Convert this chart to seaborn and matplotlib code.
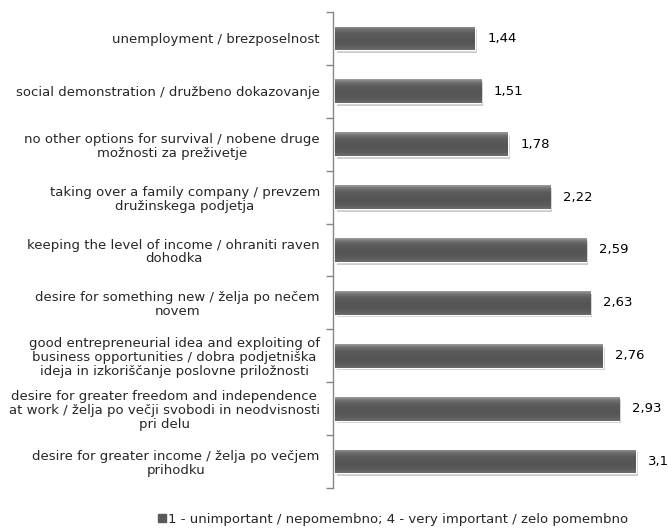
import numpy as np
import pandas as pd
import matplotlib
matplotlib.use("Agg")
import matplotlib.pyplot as plt
import seaborn as sns
from matplotlib.patches import Patch

categories = [
    "unemployment / brezposelnost",
    "social demonstration / družbeno dokazovanje",
    "no other options for survival / nobene druge\nmožnosti za preživetje",
    "taking over a family company / prevzem\ndružinskega podjetja",
    "keeping the level of income / ohraniti raven\ndohodka",
    "desire for something new / želja po nečem\nnovem",
    "good entrepreneurial idea and exploiting of\nbusiness opportunities / dobra podjetniška\nideja in izkoriščanje poslovne priložnosti",
    "desire for greater freedom and independence\nat work / želja po večji svobodi in neodvisnosti\npri delu",
    "desire for greater income / želja po večjem\nprihodku",
]
values = [1.44, 1.51, 1.78, 2.22, 2.59, 2.63, 2.76, 2.93, 3.1]
value_labels = ["1,44", "1,51", "1,78", "2,22", "2,59", "2,63", "2,76", "2,93", "3,1"]
legend_label = "1 - unimportant / nepomembno; 4 - very important / zelo pomembno"

df = pd.DataFrame({"category": categories, "value": values})

sns.set_style("white")
plt.rcParams["font.family"] = ["DejaVu Sans"]
FS = 9.5

W, H = 668, 532
fig = plt.figure(figsize=(W / 100, H / 100), dpi=100)
ax = fig.add_axes([333 / W, (H - 488) / H, (W - 333) / W, 476 / H])

sns.barplot(data=df, y="category", x="value", color="#595959", width=0.45,
            orient="h", ax=ax, saturation=1)

XMAX = (W - 335) / 97.0
ax.set_xlim(-2 / 97.0, XMAX)
ax.set_ylim(len(categories) - 0.5, -0.5)

# gradient shading for bars
grad = np.array([0.0, 0.12, 0.3, 0.6, 0.85, 1.0])
cols = np.array([[0.62, 0.62, 0.62], [0.45, 0.45, 0.45], [0.36, 0.36, 0.36],
                 [0.33, 0.33, 0.33], [0.36, 0.36, 0.36], [0.42, 0.42, 0.42]])
yy = np.linspace(0, 1, 64)
img = np.stack([np.interp(yy, grad, cols[:, k]) for k in range(3)], axis=-1)[:, None, :]
for p in list(ax.patches):
    x0, y0 = p.get_x(), p.get_y()
    w, h = p.get_width(), p.get_height()
    ax.add_patch(plt.Rectangle((x0 + 0.02, y0 + 0.05), w, h, color="#cccccc",
                               zorder=p.get_zorder() - 0.1, lw=0))
    im = ax.imshow(img, extent=(x0, x0 + w, y0 + h, y0), aspect="auto",
                   zorder=p.get_zorder() + 0.1, interpolation="bilinear")
    im.set_clip_path(p)
ax.set_xlim(-2 / 97.0, XMAX)
ax.set_ylim(len(categories) - 0.5, -0.5)

for i, (v, lab) in enumerate(zip(values, value_labels)):
    ax.annotate(lab, (v, i), xytext=(9, 0), textcoords="offset points",
                ha="left", va="center", fontsize=FS, color="#000000")

ax.set_xlabel("")
ax.set_ylabel("")
ax.set_xticks([])
for s in ["top", "right", "bottom"]:
    ax.spines[s].set_visible(False)
ax.spines["left"].set_color("#868686")
ax.spines["left"].set_linewidth(1.0)

ax.set_yticks(np.arange(-0.5, len(categories), 1.0), minor=True)
ax.tick_params(axis="y", which="minor", length=5, color="#868686", width=1, direction="out", left=True)
ax.tick_params(axis="y", which="major", length=0, pad=9.5, labelsize=FS)
for t in ax.get_yticklabels():
    t.set_multialignment("center")
    t.set_linespacing(1.1)

fig.legend(handles=[Patch(facecolor="#595959", edgecolor="#595959")], labels=[legend_label],
           loc="center", bbox_to_anchor=(393 / W, (H - 519) / H), frameon=False,
           fontsize=FS, handlelength=0.6, handleheight=0.6, handletextpad=0.2)

fig.savefig("out.png", dpi=100, facecolor="white")
